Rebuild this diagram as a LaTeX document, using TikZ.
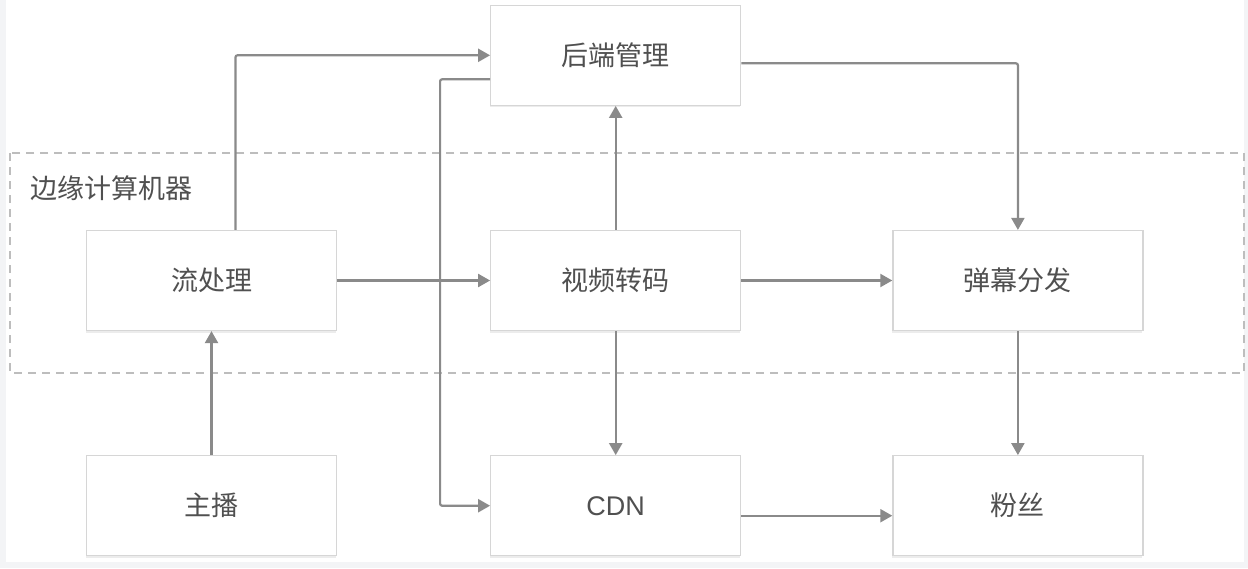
\documentclass[tikz,border=0pt]{standalone}
\usepackage{fontspec}
\setmainfont{Liberation Sans}
\newfontfamily\cjk{Noto Sans CJK SC}
\usetikzlibrary{positioning,arrows.meta,shadows}
\definecolor{linegray}{HTML}{8A8A8A}
\definecolor{textgray}{HTML}{505050}
\definecolor{boxgray}{HTML}{D6D6D6}
\definecolor{dashgray}{HTML}{BDBDBD}
\definecolor{framegray}{HTML}{F3F4F6}

\begin{document}
\begin{tikzpicture}[x=1pt,y=1pt,node distance=124pt and 153pt]
\tikzstyle{box}=[draw=boxgray,line width=1.2pt,fill=white,minimum width=250pt,minimum height=100pt,inner sep=0pt,font=\fontsize{27}{30}\selectfont\cjk,text=textgray,drop shadow={shadow xshift=-0.5pt,shadow yshift=-2pt,opacity=0.15}]
\tikzstyle{arr}=[draw=linegray,line width=2.2pt,rounded corners=2pt,-{Triangle[length=12pt,width=13pt]}]

% page frame
\fill[framegray] (0,0) rectangle (1248,-568);
\fill[white] (6,0) rectangle (1244,-562);
\useasboundingbox (0,0) rectangle (1248,-568);

% edge machine area
\draw[dashgray,line width=1.5pt,dash pattern=on 8pt off 6pt] (10,-153) rectangle (1244,-373);
\node[anchor=west,text=textgray,font=\fontsize{27}{30}\selectfont\cjk] (edge) at (27,-188) {边缘计算机器};

\node [box] (liu) at (211.5,-280.5) {流处理};
\node [box,right=of liu] (zhuanma) {视频转码};
\node [box,right=151pt of zhuanma] (danmu) {弹幕分发};
\node [box,above=of zhuanma] (houduan) {后端管理};
\node [box,below=of liu] (zhubo) {主播};
\node [box,below=of zhuanma,font=\fontsize{27}{30}\selectfont] (cdn) {CDN};
\node [box,below=of danmu] (fans) {粉丝};

\draw[arr] ([xshift=24pt]liu.north) |- (houduan.west);
\draw[arr] ([yshift=-24pt]houduan.west) -- ++(-50pt,0) |- (cdn.west);
\draw[arr] (zhuanma.north) -- (houduan.south);
\draw[arr] ([yshift=-8pt]houduan.east) -| (danmu.north);
\draw[arr] (liu.east) -- (zhuanma.west);
\draw[arr] (zhuanma.east) -- (danmu.west);
\draw[arr] (zhuanma.south) -- (cdn.north);
\draw[arr] (danmu.south) -- (fans.north);
\draw[arr] (zhubo.north) -- (liu.south);
\draw[arr] ([yshift=-10pt]cdn.east) -- ([yshift=-10pt]fans.west);
\end{tikzpicture}
\end{document}
